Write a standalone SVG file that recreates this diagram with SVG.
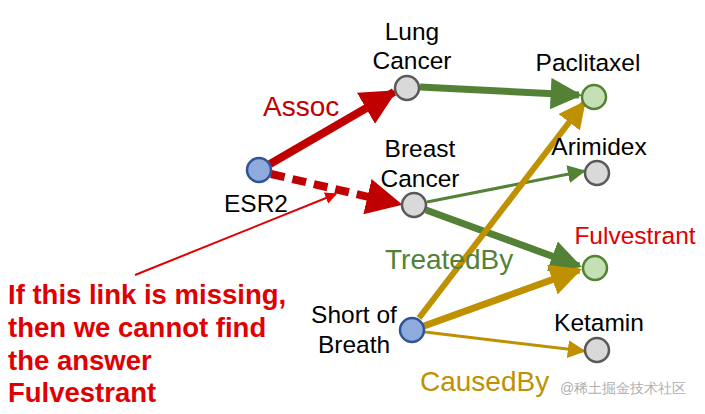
<svg xmlns="http://www.w3.org/2000/svg" width="705" height="414" viewBox="0 0 705 414">
<style>
text{font-family:"Liberation Sans",Arial,sans-serif}
.n{font-size:24.5px;fill:#000;text-anchor:middle}
.gray{fill:#d9d9d9;stroke:#595959;stroke-width:2.5}
.blue{fill:#8faadc;stroke:#2f5597;stroke-width:2.5}
.green{fill:#c5e0b4;stroke:#548235;stroke-width:2.5}
</style>
<defs>
<marker id="ar" viewBox="0 0 10 10" refX="9" refY="5" markerWidth="4.5" markerHeight="4.5" orient="auto" markerUnits="strokeWidth"><path d="M0,0L10,5L0,10z" fill="#c00000"/></marker>
<marker id="ag" viewBox="0 0 10 10" refX="9" refY="5" markerWidth="4.5" markerHeight="4.5" orient="auto" markerUnits="strokeWidth"><path d="M0,0L10,5L0,10z" fill="#538135"/></marker>
<marker id="ay" viewBox="0 0 10 10" refX="9" refY="5" markerWidth="4.5" markerHeight="4.5" orient="auto" markerUnits="strokeWidth"><path d="M0,0L10,5L0,10z" fill="#bf9000"/></marker>
<marker id="ag2" viewBox="0 0 10 10" refX="9" refY="5" markerWidth="6" markerHeight="6" orient="auto" markerUnits="strokeWidth"><path d="M0,0L10,5L0,10z" fill="#538135"/></marker>
<marker id="ay2" viewBox="0 0 10 10" refX="9" refY="5" markerWidth="6" markerHeight="6" orient="auto" markerUnits="strokeWidth"><path d="M0,0L10,5L0,10z" fill="#bf9000"/></marker>
<marker id="ar2" viewBox="0 0 10 10" refX="9" refY="5" markerWidth="6" markerHeight="6" orient="auto" markerUnits="strokeWidth"><path d="M0,0L10,5L0,10z" fill="#e00000"/></marker>
</defs>
<g id="connectors" fill="none">
<line x1="270" y1="164" x2="394" y2="92" stroke="#c00000" stroke-width="8" marker-end="url(#ar)"/>
<line x1="271" y1="174" x2="399" y2="204" stroke="#c00000" stroke-width="8" stroke-dasharray="14,8" marker-end="url(#ar)"/>
<line x1="420" y1="87" x2="579" y2="95" stroke="#538135" stroke-width="7" marker-end="url(#ag)"/>
<line x1="427" y1="202" x2="584" y2="171" stroke="#538135" stroke-width="3" marker-end="url(#ag2)"/>
<line x1="426" y1="210" x2="579" y2="266" stroke="#538135" stroke-width="7" marker-end="url(#ag)"/>
<line x1="419" y1="318" x2="584" y2="103" stroke="#bf9000" stroke-width="6" marker-end="url(#ay)"/>
<line x1="424" y1="326" x2="579" y2="270" stroke="#bf9000" stroke-width="7" marker-end="url(#ay)"/>
<line x1="425" y1="332" x2="584" y2="351" stroke="#bf9000" stroke-width="3" marker-end="url(#ay2)"/>
<line x1="135" y1="275" x2="336" y2="194" stroke="#e00000" stroke-width="2" marker-end="url(#ar2)"/>
</g>
<g id="esr2"><circle cx="259" cy="170" r="12" class="blue"/><text class="n" x="256" y="212">ESR2</text></g>
<g id="lung"><circle cx="407" cy="88" r="12" class="gray"/><text class="n" x="412" y="40">Lung</text><text class="n" x="412" y="69">Cancer</text></g>
<g id="breast"><circle cx="414" cy="205" r="12" class="gray"/><text class="n" x="420" y="157">Breast</text><text class="n" x="420" y="187">Cancer</text></g>
<g id="short"><circle cx="412" cy="330" r="12" class="blue"/><text class="n" x="354" y="323">Short of</text><text class="n" x="354" y="353">Breath</text></g>
<g id="paclitaxel"><circle cx="594" cy="97" r="12" class="green"/><text class="n" x="588" y="71">Paclitaxel</text></g>
<g id="arimidex"><circle cx="597" cy="173" r="12" class="gray"/><text class="n" x="599" y="155">Arimidex</text></g>
<g id="fulvestrant"><circle cx="595" cy="268" r="12" class="green"/><text class="n" x="635" y="244" style="fill:#e00000">Fulvestrant</text></g>
<g id="ketamin"><circle cx="597" cy="350" r="12" class="gray"/><text class="n" x="599" y="331">Ketamin</text></g>
<text x="263" y="116" font-size="28" fill="#c00000">Assoc</text>
<text x="385" y="269" font-size="28" fill="#538135">TreatedBy</text>
<text x="420" y="391" font-size="28" fill="#bf9000">CausedBy</text>
<g font-size="27.5" font-weight="bold" fill="#e00000">
<text x="8" y="304">If this link is missing,</text>
<text x="8" y="337">then we cannot find</text>
<text x="8" y="370">the answer</text>
<text x="8" y="402">Fulvestrant</text>
</g>
<text x="560" y="393" font-size="14" fill="#b0b0b0" font-family="'Noto Sans CJK SC',sans-serif">@稀土掘金技术社区</text>
</svg>
